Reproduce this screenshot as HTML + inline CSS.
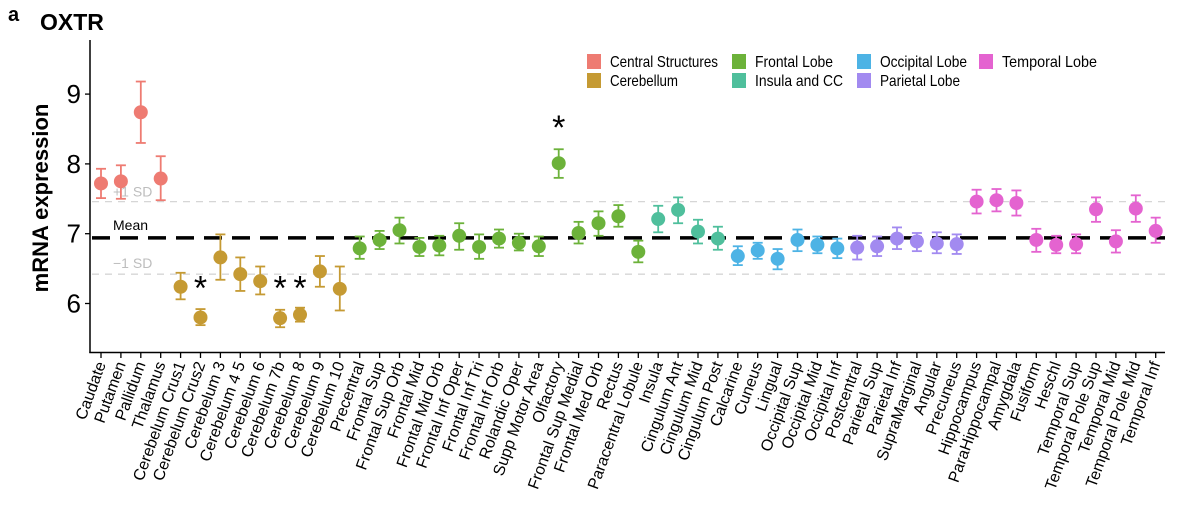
<!DOCTYPE html>
<html><head><meta charset="utf-8"><style>
body{margin:0;background:#fff;}
svg{display:block;font-family:"Liberation Sans",Arial,sans-serif;}
</style></head><body>
<svg id="chart" width="1200" height="517">
<text x="8" y="21" font-size="20" font-weight="bold">a</text>
<text x="40" y="30" font-size="23" font-weight="bold">OXTR</text>
<text transform="translate(48,198) rotate(-90)" text-anchor="middle" font-size="22" font-weight="bold">mRNA expression</text>
<g id="plot"></g>
</svg>
<script>
const categories=["Caudate","Putamen","Pallidum","Thalamus","Cerebelum Crus1","Cerebelum Crus2","Cerebelum 3","Cerebelum 4 5","Cerebelum 6","Cerebelum 7b","Cerebelum 8","Cerebelum 9","Cerebelum 10","Precentral","Frontal Sup","Frontal Sup Orb","Frontal Mid","Frontal Mid Orb","Frontal Inf Oper","Frontal Inf Tri","Frontal Inf Orb","Rolandic Oper","Supp Motor Area","Olfactory","Frontal Sup Medial","Frontal Med Orb","Rectus","Paracentral Lobule","Insula","Cingulum Ant","Cingulum Mid","Cingulum Post","Calcarine","Cuneus","Lingual","Occipital Sup","Occipital Mid","Occipital Inf","Postcentral","Parietal Sup","Parietal Inf","SupraMarginal","Angular","Precuneus","Hippocampus","ParaHippocampal","Amygdala","Fusiform","Heschl","Temporal Sup","Temporal Pole Sup","Temporal Mid","Temporal Pole Mid","Temporal Inf"];
const groups=[0,0,0,0,1,1,1,1,1,1,1,1,1,2,2,2,2,2,2,2,2,2,2,2,2,2,2,2,3,3,3,3,4,4,4,4,4,4,5,5,5,5,5,5,6,6,6,6,6,6,6,6,6,6];
const means=[7.72,7.75,8.74,7.79,6.24,5.80,6.66,6.42,6.32,5.79,5.84,6.46,6.21,6.79,6.91,7.05,6.81,6.83,6.97,6.81,6.93,6.87,6.82,8.01,7.01,7.15,7.25,6.74,7.21,7.34,7.03,6.93,6.68,6.76,6.64,6.91,6.84,6.79,6.80,6.82,6.93,6.89,6.86,6.85,7.46,7.48,7.44,6.91,6.84,6.85,7.35,6.89,7.36,7.04];
const upper=[7.93,7.98,9.18,8.11,6.44,5.92,6.99,6.66,6.53,5.91,5.94,6.68,6.53,6.96,7.04,7.23,6.94,6.97,7.15,6.99,7.06,7.00,6.96,8.21,7.17,7.32,7.41,6.90,7.40,7.52,7.20,7.10,6.82,6.87,6.78,7.06,6.96,6.93,6.97,6.96,7.09,7.01,7.02,6.99,7.63,7.64,7.62,7.07,6.97,6.99,7.52,7.05,7.55,7.23];
const lower=[7.51,7.50,8.30,7.48,6.06,5.69,6.34,6.18,6.13,5.66,5.74,6.24,5.90,6.64,6.78,6.86,6.68,6.69,6.77,6.64,6.80,6.76,6.68,7.80,6.86,6.97,7.10,6.59,7.02,7.15,6.86,6.77,6.55,6.64,6.49,6.75,6.72,6.65,6.63,6.68,6.78,6.75,6.72,6.71,7.29,7.32,7.26,6.74,6.72,6.72,7.17,6.73,7.17,6.87];
const starred=["Cerebelum Crus2","Cerebelum 7b","Cerebelum 8","Olfactory"];
const groupNames=["Central Structures","Cerebellum","Frontal Lobe","Insula and CC","Occipital Lobe","Parietal Lobe","Temporal Lobe"];
const groupColors=["#EE7B72","#C59A33","#6CB23A","#4FBF9C","#4DB3E5","#A28AF0","#E463D0"];
const yTicks=[6,7,8,9];
const meanVal=6.94, sdUp=7.46, sdDown=6.42;

const NS="http://www.w3.org/2000/svg";
const plot=document.getElementById('plot');
const X0=101,XS=19.9,Y6=303.5,YS=69.8;
const xs=i=>X0+i*XS;
const ys=v=>Y6-(v-6)*YS;
function mk(tag,attrs,parent){const e=document.createElementNS(NS,tag);for(const k in attrs)e.setAttribute(k,attrs[k]);(parent||plot).appendChild(e);return e;}

let l=mk('line',{x1:92,x2:1165,y1:ys(sdUp),y2:ys(sdUp),stroke:'#d6d6d6','stroke-width':1.3,'stroke-dasharray':'7,6'});


l=mk('line',{x1:92,x2:1165,y1:ys(sdDown),y2:ys(sdDown),stroke:'#d6d6d6','stroke-width':1.3,'stroke-dasharray':'7,6'});


let t=mk('text',{x:113,y:ys(sdUp)-5,'font-size':14,fill:'#bdbdbd'});t.textContent='+1 SD';


t=mk('text',{x:113,y:ys(sdDown)-6,'font-size':14,fill:'#bdbdbd'});t.textContent='\u22121 SD';


l=mk('line',{x1:92,x2:1165,y1:ys(meanVal),y2:ys(meanVal),stroke:'#000','stroke-width':3.5,'stroke-dasharray':'18,10'});


t=mk('text',{x:113,y:ys(meanVal)-8,'font-size':14,fill:'#000'});t.textContent='Mean';



l=mk('line',{x1:90,x2:90,y1:40,y2:353,stroke:'#000','stroke-width':1.5});


l=mk('line',{x1:89.3,x2:1165,y1:352.5,y2:352.5,stroke:'#000','stroke-width':1.5});


yTicks.forEach(v=>{
  const tk=mk('line',{x1:85,x2:90,y1:ys(v),y2:ys(v),stroke:'#000','stroke-width':1.3});
  
  
  const tl=mk('text',{x:81,y:ys(v)+9,'font-size':26,'text-anchor':'end'});tl.textContent=v;
  
  
});

categories.forEach((c,i)=>{
  const x=xs(i),col=groupColors[groups[i]];
  const tk=mk('line',{x1:x,x2:x,y1:352,y2:358,stroke:'#000','stroke-width':1.3});
  
  
  const tl=mk('text',{transform:`translate(${x+5},364) rotate(-70)`,'font-size':16,'text-anchor':'end'});tl.textContent=c;
  
  
  const g=mk('g',{stroke:col,'stroke-width':1.8});
  
  
  mk('line',{x1:x,x2:x,y1:ys(upper[i]),y2:ys(lower[i])},g);
  mk('line',{x1:x-5,x2:x+5,y1:ys(upper[i]),y2:ys(upper[i])},g);
  mk('line',{x1:x-5,x2:x+5,y1:ys(lower[i]),y2:ys(lower[i])},g);
  const p=mk('circle',{cx:x,cy:ys(means[i]),r:7,fill:col});
  
  
  if(starred.includes(c)){
    const sy=c==='Olfactory'?ys(upper[i])-10:ys(6.24)+13;
    const s=mk('text',{x:x,y:sy,'font-size':34,'text-anchor':'middle'});s.textContent='*';
    
    
  }
});

const legX=[587,587,732,732,857,857,979],legY=[54,73,54,73,54,73,54];
const legW=[108,68,78,88,87,80,95];
groupNames.forEach((n,i)=>{
  const g=mk('g',{});
  
  
  mk('rect',{x:legX[i],y:legY[i],width:14,height:15,fill:groupColors[i]},g);
  const tt=mk('text',{x:legX[i]+23,y:legY[i]+13,'font-size':16,textLength:legW[i],lengthAdjust:'spacingAndGlyphs'},g);tt.textContent=n;
});
</script>
</body></html>
